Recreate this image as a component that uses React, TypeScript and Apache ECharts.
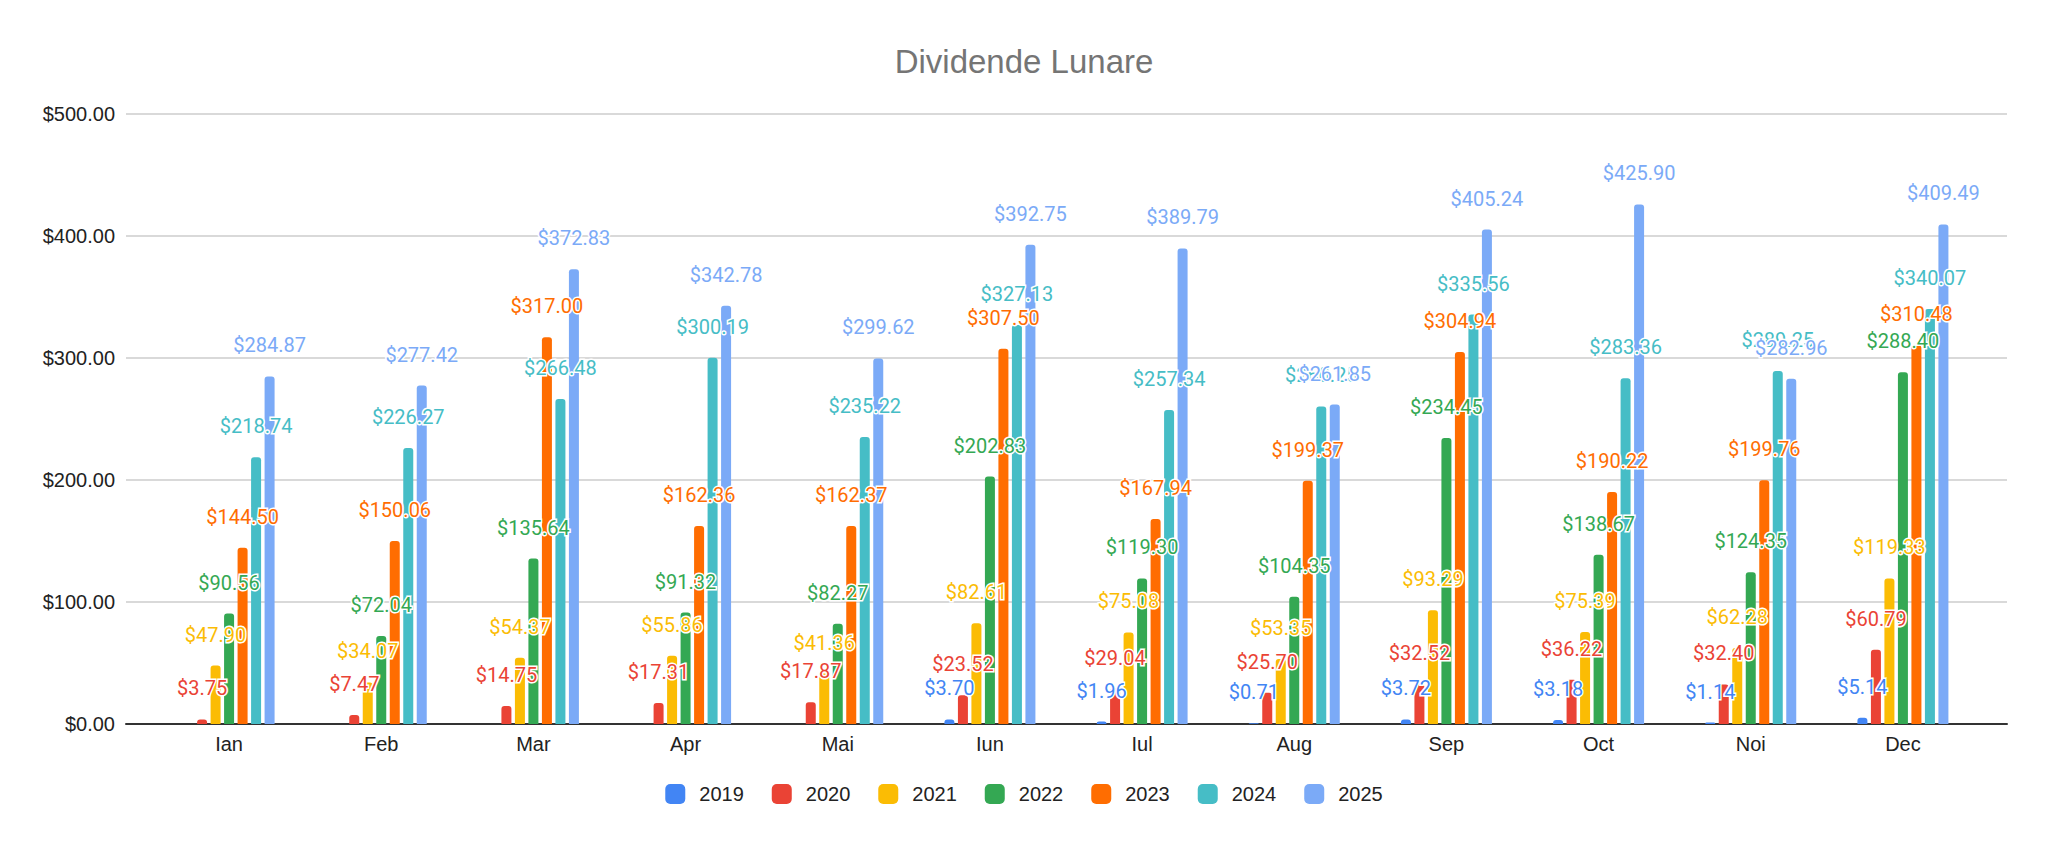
import React, { useEffect, useRef } from 'react';
import * as echarts from 'echarts';

// luni
const months = ['Ian', 'Feb', 'Mar', 'Apr', 'Mai', 'Iun', 'Iul', 'Aug', 'Sep', 'Oct', 'Noi', 'Dec'];

const years = ['2019', '2020', '2021', '2022', '2023', '2024', '2025'];
const colors = ['#4285F4', '#EA4335', '#FBBC04', '#34A853', '#FF6D01', '#46BDC6', '#7BAAF7'];

const v2019 = [null, null, null, null, null, 3.70, 1.96, 0.71, 3.72, 3.18, 1.14, 5.14];
const v2020 = [3.75, 7.47, 14.75, 17.31, 17.87, 23.52, 29.04, 25.70, 32.52, 36.22, 32.40, 60.79];
const v2021 = [47.90, 34.07, 54.37, 55.86, 41.36, 82.61, 75.08, 53.35, 93.29, 75.39, 62.28, 119.33];
const v2022 = [90.56, 72.04, 135.64, 91.32, 82.27, 202.83, 119.30, 104.35, 234.45, 138.67, 124.35, 288.40];
const v2023 = [144.50, 150.06, 317.00, 162.36, 162.37, 307.50, 167.94, 199.37, 304.94, 190.22, 199.76, 310.48];
const v2024 = [218.74, 226.27, 266.48, 300.19, 235.22, 327.13, 257.34, 260.25, 335.56, 283.36, 289.25, 340.07];
const v2025 = [284.87, 277.42, 372.83, 342.78, 299.62, 392.75, 389.79, 261.85, 405.24, 425.90, 282.96, 409.49];

const values = [v2019, v2020, v2021, v2022, v2023, v2024, v2025];

const yTicks = { min: 0, max: 500, interval: 100 };

const money = (v: number) => '$' + v.toFixed(2);

const App = () => {
  const chartRef = useRef<HTMLDivElement>(null);

  useEffect(() => {
    document.body.style.margin = '0';
    const chart = echarts.init(chartRef.current, null, { renderer: 'svg' });

    const series = years.map((y, i) => ({
      name: y,
      type: 'bar',
      xAxisIndex: 1,
      yAxisIndex: 1,
      barWidth: 10,
      barGap: '35%',
      data: values[i],
      itemStyle: { color: colors[i], borderRadius: [3, 3, 0, 0] },
      label: {
        show: true,
        position: 'top',
        distance: 21,
        formatter: (p: any) => money(p.value),
        color: colors[i],
        fontFamily: 'Roboto',
        fontSize: 20,
        textBorderColor: '#fff',
        textBorderWidth: 3,
      },
    }));

    const option = {
      animation: false,
      backgroundColor: '#fff',
      title: {
        text: 'Dividende Lunare',
        left: 'center',
        top: 40,
        textStyle: {
          color: '#757575',
          fontFamily: 'Liberation Sans',
          fontSize: 33,
          fontWeight: 'normal',
        },
      },
      legend: {
        data: years,
        left: 'center',
        top: 779,
        icon: 'roundRect',
        itemWidth: 20,
        itemHeight: 20,
        itemGap: 28,
        textStyle: {
          color: '#222',
          fontFamily: 'Liberation Sans',
          fontSize: 20,
          padding: [0, 0, 0, 9],
        },
      },
      grid: [
        { left: 126, right: 41, top: 114, bottom: 121 },
        { left: 153, right: 69, top: 114, bottom: 121 },
      ],
      xAxis: [
        {
          type: 'value',
          gridIndex: 0,
          min: 0,
          max: 1,
          axisLine: { show: true, lineStyle: { color: '#333', width: 2 } },
          axisTick: { show: false },
          axisLabel: { show: false },
          splitLine: { show: false },
        },
        {
          type: 'category',
          gridIndex: 1,
          data: months,
          axisLine: { show: false },
          axisTick: { show: false },
          axisLabel: {
            color: '#222',
            fontFamily: 'Liberation Sans',
            fontSize: 20,
            margin: 10,
          },
        },
      ],
      yAxis: [
        {
          type: 'value',
          gridIndex: 0,
          ...yTicks,
          axisLine: { show: false },
          axisTick: { show: false },
          axisLabel: {
            formatter: (v: number) => money(v),
            color: '#222',
            fontFamily: 'Liberation Sans',
            fontSize: 20,
            margin: 11,
          },
          splitLine: { lineStyle: { color: '#ccc', width: 1.5 } },
        },
        {
          type: 'value',
          gridIndex: 1,
          ...yTicks,
          show: false,
          splitLine: { show: false },
        },
      ],
      series,
    };

    chart.setOption(option);

    return () => {
      chart.dispose();
    };
  }, []);

  return <div ref={chartRef} style={{ width: '2048px', height: '845px' }} />;
};

export default App;
